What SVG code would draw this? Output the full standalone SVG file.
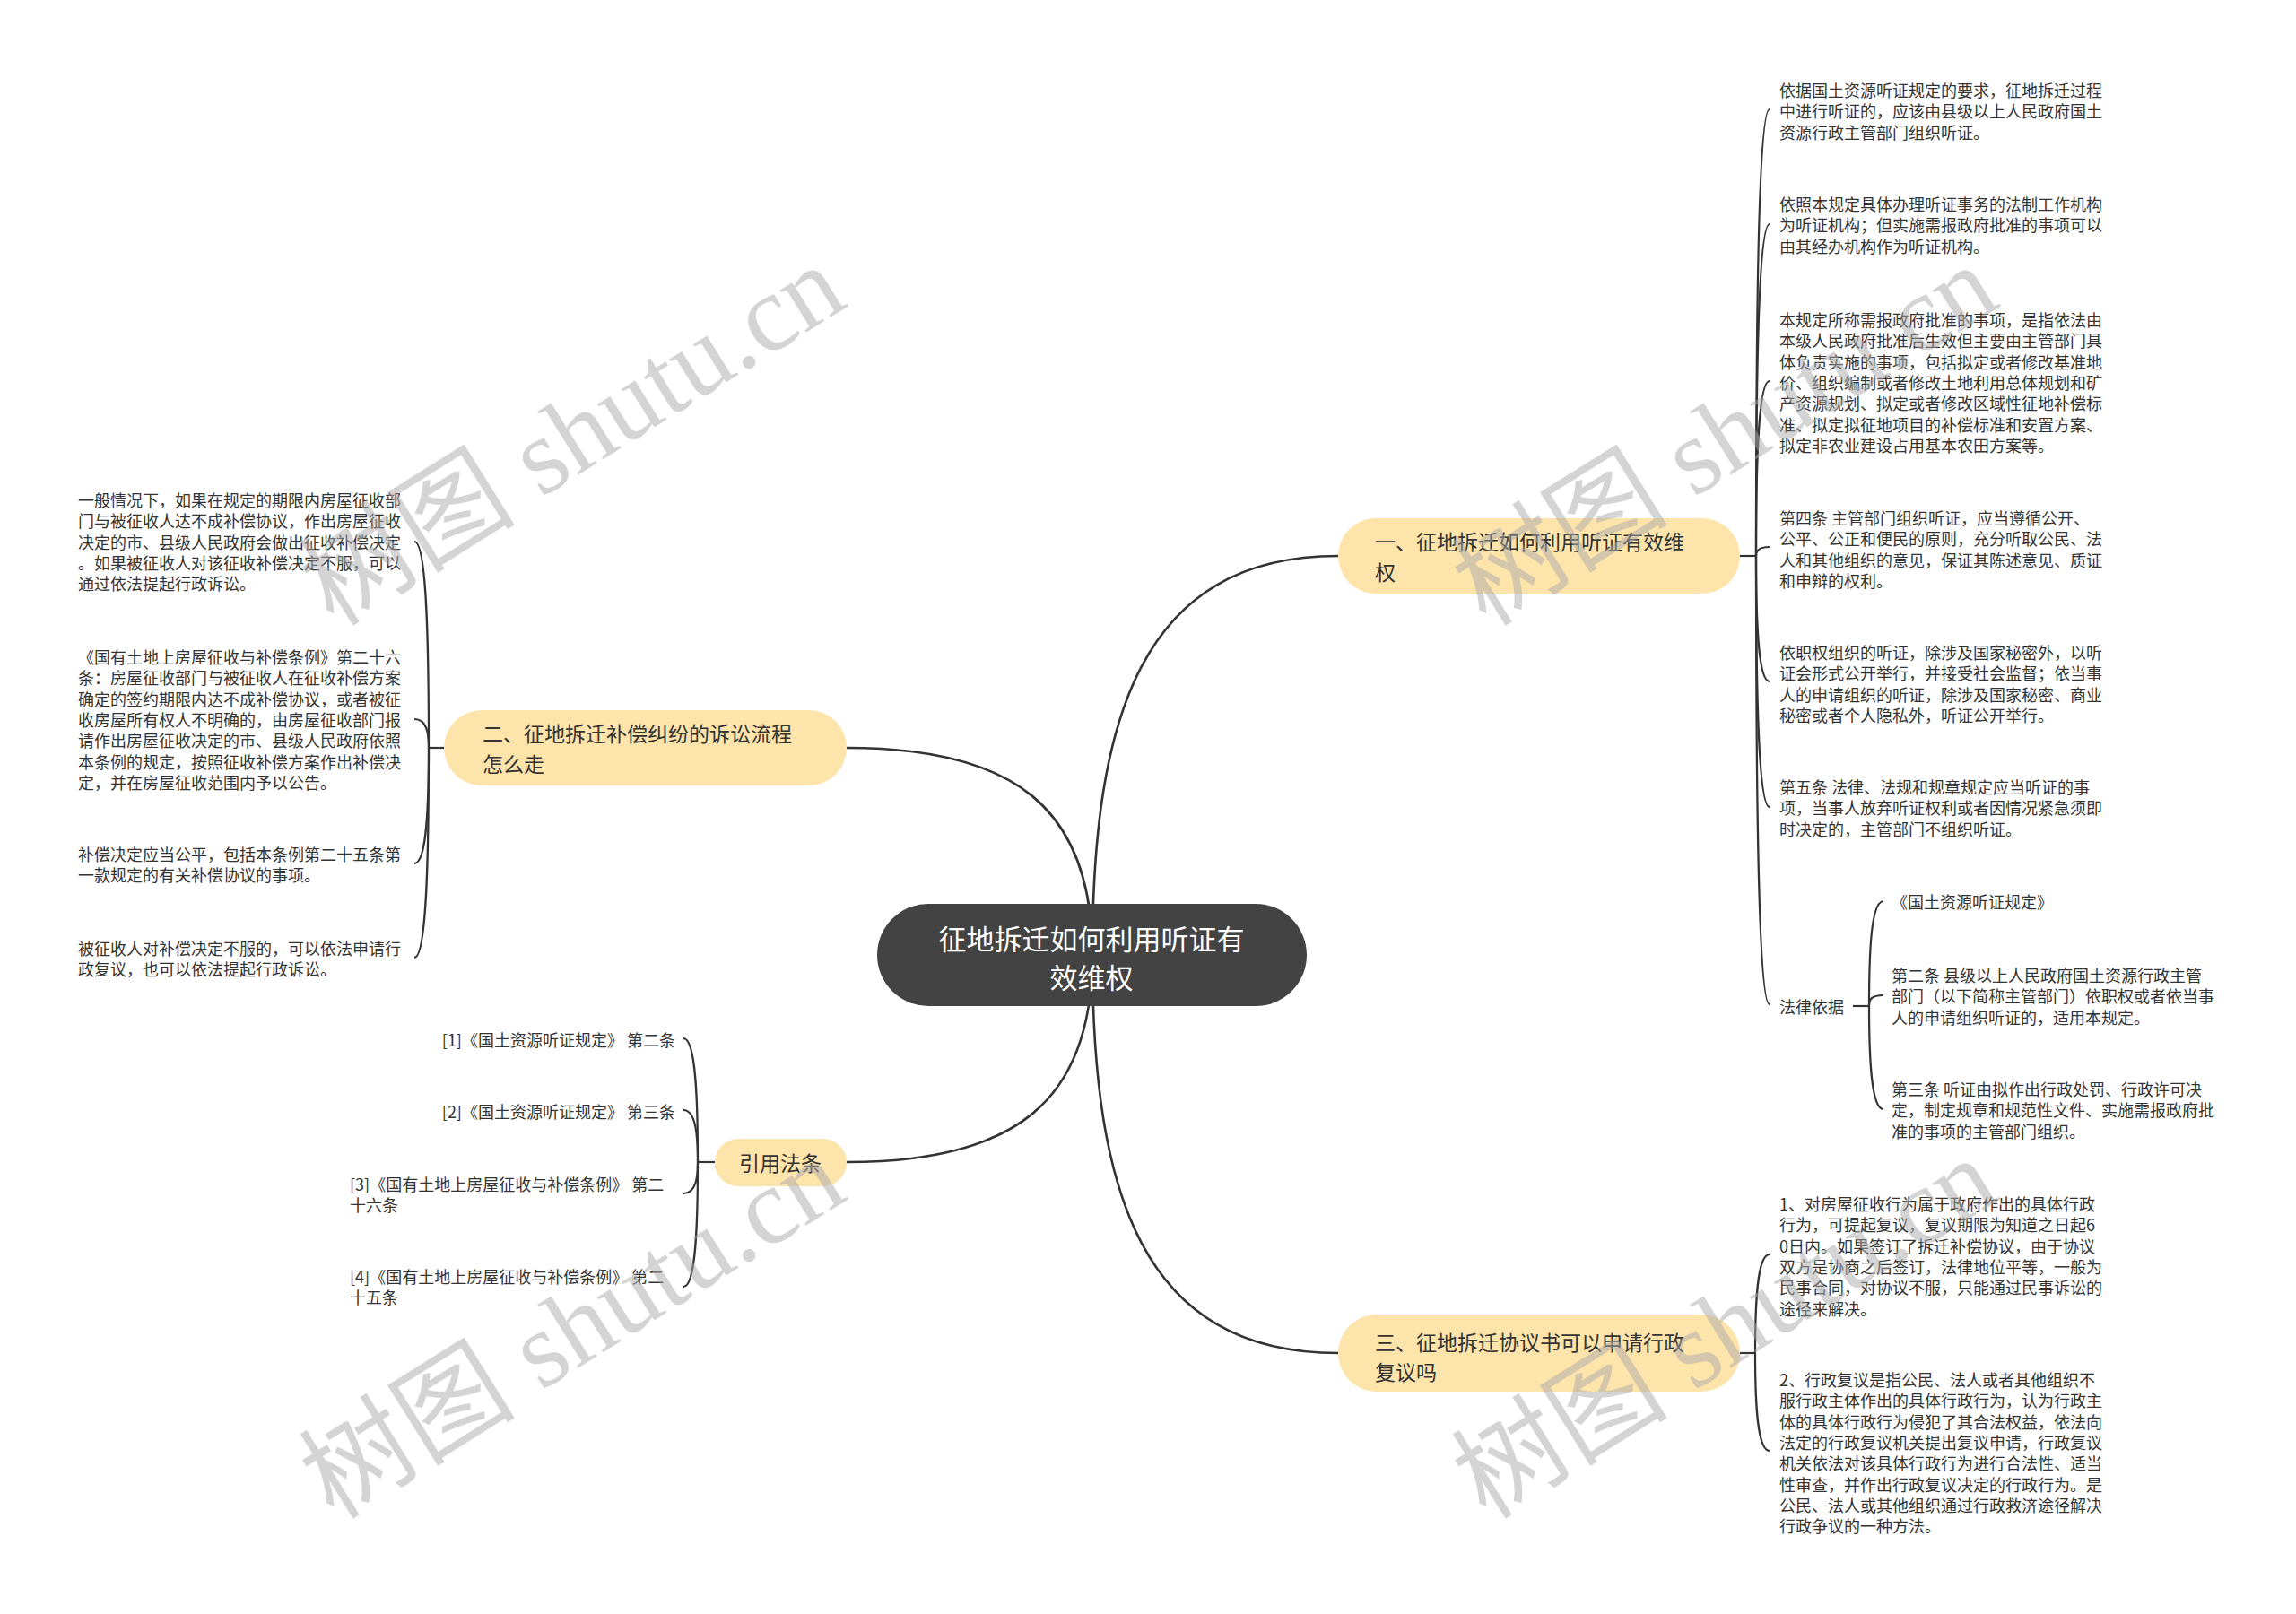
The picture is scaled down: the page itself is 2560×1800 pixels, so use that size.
<svg xmlns="http://www.w3.org/2000/svg" width="2560" height="1800" viewBox="0 0 2560 1800">
<style>
text{font-family:"Noto Sans CJK SC","Noto Sans",sans-serif;dominant-baseline:central}
.leaf{font-size:18px;fill:#333}
.br{font-size:23px;fill:#333}
.ctr{font-size:31px;fill:#fff;text-anchor:middle}
.bnode{fill:#FDE4AA}
.cnode{fill:#434343}
.main{fill:none;stroke:#333;stroke-width:2.6}
.sub{fill:none;stroke:#333;stroke-width:2.2}
.wm{font-family:"Liberation Serif","Noto Sans CJK SC",serif;font-size:121px;fill:#aaa;opacity:.5;dominant-baseline:auto}
</style>
<rect width="2560" height="1800" fill="#fff"/>
<g id="connectors">
<path class="main" d="M1218,1065 C1218,800 1273,620 1492,620"/>
<path class="main" d="M1218,1065 C1218,900 1130,834 944,834"/>
<path class="main" d="M1218,1065 C1218,1230 1130,1296 944,1296"/>
<path class="main" d="M1218,1065 C1218,1330 1273,1509 1492,1509"/>
<path class="sub" d="M1940,620 L1958,620"/>
<path class="sub" d="M1958,620 C1958,371 1960,122 1973,122"/>
<path class="sub" d="M1958,620 C1958,435 1960,250 1973,250"/>
<path class="sub" d="M1958,620 C1958,522 1960,425 1973,425"/>
<path class="sub" d="M1958,620 C1958,615 1960,610 1973,610"/>
<path class="sub" d="M1958,620 C1958,690 1960,760 1973,760"/>
<path class="sub" d="M1958,620 C1958,760 1960,900 1973,900"/>
<path class="sub" d="M1958,620 C1958,870 1960,1120 1973,1120"/>
<path class="sub" d="M2066,1122 L2084,1122"/>
<path class="sub" d="M2084,1122 C2084,1063 2086,1005 2100,1005"/>
<path class="sub" d="M2084,1122 C2084,1115 2086,1110 2100,1110"/>
<path class="sub" d="M2084,1122 C2084,1177 2086,1237 2100,1237"/>
<path class="sub" d="M495,834 L478,834"/>
<path class="sub" d="M478,834 C478,719 476,604 462,604"/>
<path class="sub" d="M478,834 C478,818 476,802 462,802"/>
<path class="sub" d="M478,834 C478,898 476,963 462,963"/>
<path class="sub" d="M478,834 C478,951 476,1068 462,1068"/>
<path class="sub" d="M797,1296 L778,1296"/>
<path class="sub" d="M778,1296 C778,1227 776,1158 762,1158"/>
<path class="sub" d="M778,1296 C778,1267 776,1238 762,1238"/>
<path class="sub" d="M778,1296 C778,1313 776,1331 762,1331"/>
<path class="sub" d="M778,1296 C778,1365 776,1435 762,1435"/>
<path class="sub" d="M1940,1509 L1957,1509"/>
<path class="sub" d="M1957,1509 C1957,1454 1959,1399 1973,1399"/>
<path class="sub" d="M1957,1509 C1957,1563 1959,1618 1973,1618"/>
</g>
<g id="center">
<rect class="cnode" x="978" y="1008" width="479" height="114" rx="57"/>
<text class="ctr" x="1217" y="1045">征地拆迁如何利用听证有</text>
<text class="ctr" x="1217" y="1088">效维权</text>
</g>
<g id="b1">
<rect class="bnode" x="1492" y="578" width="448" height="84" rx="42"/>
<text class="br" x="1533" y="603">一、征地拆迁如何利用听证有效维</text>
<text class="br" x="1533" y="637">权</text>
</g>
<g id="b2">
<rect class="bnode" x="495" y="792" width="449" height="84" rx="42"/>
<text class="br" x="538" y="817">二、征地拆迁补偿纠纷的诉讼流程</text>
<text class="br" x="538" y="851">怎么走</text>
</g>
<g id="b3">
<rect class="bnode" x="1492" y="1466" width="448" height="86" rx="43"/>
<text class="br" x="1533" y="1496">三、征地拆迁协议书可以申请行政</text>
<text class="br" x="1533" y="1529">复议吗</text>
</g>
<g id="b4">
<rect class="bnode" x="797" y="1270" width="147" height="53" rx="26.5"/>
<text class="br" x="870" y="1296" text-anchor="middle">引用法条</text>
</g>
<g id="l1a"><text class="leaf"><tspan x="1984" y="100">依据国土资源听证规定的要求，征地拆迁过程</tspan><tspan x="1984" dy="23.3">中进行听证的，应该由县级以上人民政府国土</tspan><tspan x="1984" dy="23.3">资源行政主管部门组织听证。</tspan></text></g>
<g id="l1b"><text class="leaf"><tspan x="1984" y="227">依照本规定具体办理听证事务的法制工作机构</tspan><tspan x="1984" dy="23.3">为听证机构；但实施需报政府批准的事项可以</tspan><tspan x="1984" dy="23.3">由其经办机构作为听证机构。</tspan></text></g>
<g id="l1c"><text class="leaf"><tspan x="1984" y="356">本规定所称需报政府批准的事项，是指依法由</tspan><tspan x="1984" dy="23.3">本级人民政府批准后生效但主要由主管部门具</tspan><tspan x="1984" dy="23.3">体负责实施的事项，包括拟定或者修改基准地</tspan><tspan x="1984" dy="23.3">价、组织编制或者修改土地利用总体规划和矿</tspan><tspan x="1984" dy="23.3">产资源规划、拟定或者修改区域性征地补偿标</tspan><tspan x="1984" dy="23.3">准、拟定拟征地项目的补偿标准和安置方案、</tspan><tspan x="1984" dy="23.3">拟定非农业建设占用基本农田方案等。</tspan></text></g>
<g id="l1d"><text class="leaf"><tspan x="1984" y="577">第四条 主管部门组织听证，应当遵循公开、</tspan><tspan x="1984" dy="23.3">公平、公正和便民的原则，充分听取公民、法</tspan><tspan x="1984" dy="23.3">人和其他组织的意见，保证其陈述意见、质证</tspan><tspan x="1984" dy="23.3">和申辩的权利。</tspan></text></g>
<g id="l1e"><text class="leaf"><tspan x="1984" y="727">依职权组织的听证，除涉及国家秘密外，以听</tspan><tspan x="1984" dy="23.3">证会形式公开举行，并接受社会监督；依当事</tspan><tspan x="1984" dy="23.3">人的申请组织的听证，除涉及国家秘密、商业</tspan><tspan x="1984" dy="23.3">秘密或者个人隐私外，听证公开举行。</tspan></text></g>
<g id="l1f"><text class="leaf"><tspan x="1984" y="877">第五条 法律、法规和规章规定应当听证的事</tspan><tspan x="1984" dy="23.3">项，当事人放弃听证权利或者因情况紧急须即</tspan><tspan x="1984" dy="23.3">时决定的，主管部门不组织听证。</tspan></text></g>
<g id="l1g"><text class="leaf" x="1984" y="1122">法律依据</text></g>
<g id="l1g1"><text class="leaf" x="2109" y="1005">《国土资源听证规定》</text></g>
<g id="l1g2"><text class="leaf"><tspan x="2109" y="1087">第二条 县级以上人民政府国土资源行政主管</tspan><tspan x="2109" dy="23.3">部门（以下简称主管部门）依职权或者依当事</tspan><tspan x="2109" dy="23.3">人的申请组织听证的，适用本规定。</tspan></text></g>
<g id="l1g3"><text class="leaf"><tspan x="2109" y="1214">第三条 听证由拟作出行政处罚、行政许可决</tspan><tspan x="2109" dy="23.3">定，制定规章和规范性文件、实施需报政府批</tspan><tspan x="2109" dy="23.3">准的事项的主管部门组织。</tspan></text></g>
<g id="l2a"><text class="leaf"><tspan x="87" y="557">一般情况下，如果在规定的期限内房屋征收部</tspan><tspan x="87" dy="23.3">门与被征收人达不成补偿协议，作出房屋征收</tspan><tspan x="87" dy="23.3">决定的市、县级人民政府会做出征收补偿决定</tspan><tspan x="87" dy="23.3">。如果被征收人对该征收补偿决定不服，可以</tspan><tspan x="87" dy="23.3">通过依法提起行政诉讼。</tspan></text></g>
<g id="l2b"><text class="leaf"><tspan x="87" y="732">《国有土地上房屋征收与补偿条例》第二十六</tspan><tspan x="87" dy="23.3">条：房屋征收部门与被征收人在征收补偿方案</tspan><tspan x="87" dy="23.3">确定的签约期限内达不成补偿协议，或者被征</tspan><tspan x="87" dy="23.3">收房屋所有权人不明确的，由房屋征收部门报</tspan><tspan x="87" dy="23.3">请作出房屋征收决定的市、县级人民政府依照</tspan><tspan x="87" dy="23.3">本条例的规定，按照征收补偿方案作出补偿决</tspan><tspan x="87" dy="23.3">定，并在房屋征收范围内予以公告。</tspan></text></g>
<g id="l2c"><text class="leaf"><tspan x="87" y="952">补偿决定应当公平，包括本条例第二十五条第</tspan><tspan x="87" dy="23.3">一款规定的有关补偿协议的事项。</tspan></text></g>
<g id="l2d"><text class="leaf"><tspan x="87" y="1057">被征收人对补偿决定不服的，可以依法申请行</tspan><tspan x="87" dy="23.3">政复议，也可以依法提起行政诉讼。</tspan></text></g>
<g id="l3a"><text class="leaf"><tspan x="1984" y="1342">1、对房屋征收行为属于政府作出的具体行政</tspan><tspan x="1984" dy="23.3">行为，可提起复议，复议期限为知道之日起6</tspan><tspan x="1984" dy="23.3">0日内。如果签订了拆迁补偿协议，由于协议</tspan><tspan x="1984" dy="23.3">双方是协商之后签订，法律地位平等，一般为</tspan><tspan x="1984" dy="23.3">民事合同，对协议不服，只能通过民事诉讼的</tspan><tspan x="1984" dy="23.3">途径来解决。</tspan></text></g>
<g id="l3b"><text class="leaf"><tspan x="1984" y="1538">2、行政复议是指公民、法人或者其他组织不</tspan><tspan x="1984" dy="23.3">服行政主体作出的具体行政行为，认为行政主</tspan><tspan x="1984" dy="23.3">体的具体行政行为侵犯了其合法权益，依法向</tspan><tspan x="1984" dy="23.3">法定的行政复议机关提出复议申请，行政复议</tspan><tspan x="1984" dy="23.3">机关依法对该具体行政行为进行合法性、适当</tspan><tspan x="1984" dy="23.3">性审查，并作出行政复议决定的行政行为。是</tspan><tspan x="1984" dy="23.3">公民、法人或其他组织通过行政救济途径解决</tspan><tspan x="1984" dy="23.3">行政争议的一种方法。</tspan></text></g>
<g id="l4a"><text class="leaf" x="753" y="1159" text-anchor="end">[1]《国土资源听证规定》 第二条</text></g>
<g id="l4b"><text class="leaf" x="753" y="1239" text-anchor="end">[2]《国土资源听证规定》 第三条</text></g>
<g id="l4c"><text class="leaf"><tspan x="390" y="1320">[3]《国有土地上房屋征收与补偿条例》 第二</tspan><tspan x="390" dy="23.3">十六条</tspan></text></g>
<g id="l4d"><text class="leaf"><tspan x="390" y="1423">[4]《国有土地上房屋征收与补偿条例》 第二</tspan><tspan x="390" dy="23.3">十五条</tspan></text></g>
<g id="watermarks">
<text class="wm" transform="translate(372,700) rotate(-32)">树图 shutu.cn</text>
<text class="wm" transform="translate(372,1696) rotate(-32)">树图 shutu.cn</text>
<text class="wm" transform="translate(1657,700) rotate(-32)">树图 shutu.cn</text>
<text class="wm" transform="translate(1657,1696) rotate(-32)">树图 shutu.cn</text>
</g>
</svg>
